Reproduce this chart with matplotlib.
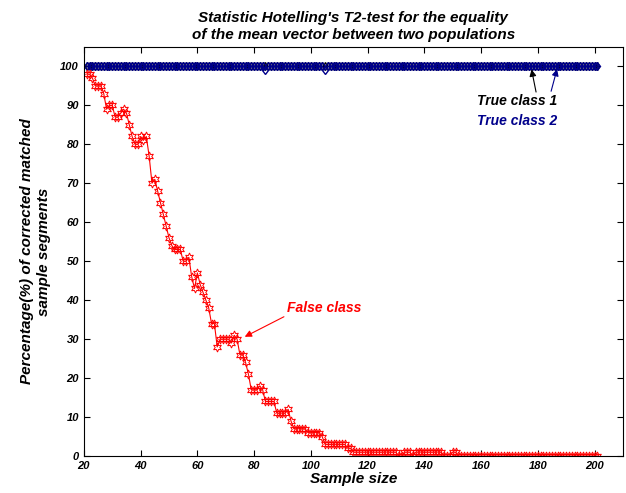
import numpy as np
import matplotlib.pyplot as plt

plt.rcParams['font.family'] = ['Liberation Sans', 'DejaVu Sans']

sample_size = np.arange(21, 202)

false_class = [
    98, 98, 97, 95, 95, 95, 93, 89, 90, 90,      # 21-30
    87, 87, 88, 89, 88, 85, 82, 80, 80, 82,      # 31-40
    81, 82, 77, 70, 71, 68, 65, 62, 59, 56,      # 41-50
    54, 53, 53, 53, 50, 50, 51, 46, 43, 47,      # 51-60
    44, 42, 40, 38, 34, 34, 28, 30, 30, 30,      # 61-70
    30, 29, 31, 30, 26, 26, 24, 21, 17, 17,      # 71-80
    17, 18, 17, 14, 14, 14, 14, 11, 11, 11,      # 81-90
    11, 12, 9, 7, 7, 7, 7, 7, 6, 6,              # 91-100
    6, 6, 6, 5, 3, 3, 3, 3, 3, 3,                # 101-110
    3, 3, 2, 2, 1, 1, 1, 1, 1, 1,                # 111-120
    1, 1, 1, 1, 1, 1, 1, 1, 1, 1,                # 121-130
    0, 0, 1, 1, 1, 0, 1, 1, 1, 1,                # 131-140
    1, 1, 1, 1, 1, 1, 0, 0, 0, 1,                # 141-150
    1, 0, 0, 0, 0, 0, 0, 0, 0, 0,                # 151-160
    0, 0, 0, 0, 0, 0, 0, 0, 0, 0,                # 161-170
    0, 0, 0, 0, 0, 0, 0, 0, 0, 0,                # 171-180
    0, 0, 0, 0, 0, 0, 0, 0, 0, 0,                # 181-190
    0, 0, 0, 0, 0, 0, 0, 0, 0, 0,                # 191-200
    0,                                           # 201
]

true_class1 = [100] * len(sample_size)
true_class2 = [100] * len(sample_size)
true_class2[84 - 21] = 99
true_class2[105 - 21] = 99

fig = plt.figure(figsize=(6.26, 4.93), dpi=100)
ax = fig.add_axes([0.134, 0.075, 0.861, 0.830])

ax.plot(sample_size, true_class1, color='black', marker='d', markersize=4,
        markerfacecolor='none', linewidth=0.8)
ax.plot(sample_size, true_class2, color='#00008B', marker='d', markersize=4.5,
        markerfacecolor='none', linewidth=0.8)
ax.plot(sample_size, false_class, color='red', marker=(6, 1, 0), markersize=6.5,
        markerfacecolor='none', markeredgewidth=0.7, linewidth=0.8)

ax.set_xlim(20, 210)
ax.set_ylim(0, 105)
ax.set_xticks(range(20, 201, 20))
ax.set_yticks(range(0, 101, 10))
ax.tick_params(direction='in', top=True, right=True, length=4, labelsize=8)
for lab in ax.get_xticklabels() + ax.get_yticklabels():
    lab.set_fontweight('bold')
    lab.set_fontstyle('italic')

ax.set_title("Statistic Hotelling's T2-test for the equality\nof the mean vector between two populations",
             fontsize=11, fontweight='bold', fontstyle='italic', pad=6)
ax.set_xlabel('Sample size', fontsize=11, fontweight='bold', fontstyle='italic', labelpad=1)
ax.set_ylabel('Percentage(%) of corrected matched\nsample segments', fontsize=11,
              fontweight='bold', fontstyle='italic', labelpad=7)

ax.annotate('False class', xy=(76.7, 30.6), xytext=(91.5, 37.9),
            color='red', fontsize=10, fontweight='bold', fontstyle='italic',
            va='center', ha='left',
            arrowprops=dict(arrowstyle='-|>', color='red', lw=0.8, shrinkA=0, shrinkB=0,
                            relpos=(0, 0.0)))
ax.annotate('', xy=(177.8, 99.2), xytext=(179.4, 93.4),
            arrowprops=dict(arrowstyle='-|>', color='black', lw=0.8, shrinkA=0, shrinkB=0))
ax.annotate('', xy=(186.8, 99.3), xytext=(184.7, 93.6),
            arrowprops=dict(arrowstyle='-|>', color='#00008B', lw=0.8, shrinkA=0, shrinkB=0))
ax.text(172.8, 91.0, 'True class 1', color='black', fontsize=10, fontweight='bold',
        fontstyle='italic', ha='center', va='center')
ax.text(172.8, 85.9, 'True class 2', color='#00008B', fontsize=10, fontweight='bold',
        fontstyle='italic', ha='center', va='center')

fig.savefig('out.png', dpi=100)
